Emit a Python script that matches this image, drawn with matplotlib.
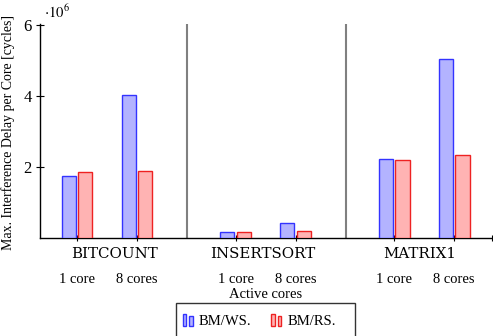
import matplotlib
matplotlib.use("Agg")
import matplotlib.pyplot as plt
from matplotlib.legend_handler import HandlerBase
from matplotlib.patches import Rectangle

plt.rcParams["font.family"] = ["Liberation Serif", "DejaVu Serif"]
plt.rcParams["mathtext.fontset"] = "stix"

benchmarks = ["BITCOUNT", "INSERTSORT", "MATRIX1"]
core_labels = ["1 core", "8 cores"]
# values in units of 1e6 cycles, order: [1 core, 8 cores]
bm_ws = [[1.76, 4.02], [0.17, 0.41], [2.23, 5.05]]
bm_rs = [[1.85, 1.89], [0.17, 0.20], [2.20, 2.35]]
series_names = ["BM/WS.", "BM/RS."]

BLUE_EDGE, BLUE_FILL = "#3333ff", "#b3b3ff"
RED_EDGE, RED_FILL = "#ee2222", "#ffb3b3"

GROUP_STEP = 2.642
BAR_W = 0.235
OFFSET = 0.14
# benchmark name position relative to the group's "1 core" tick
NAME_SHIFT = [0.63, 0.46, 0.43]

W, H = 493, 336
fig = plt.figure(figsize=(W / 100, H / 100), dpi=100)
ax = fig.add_axes([40 / W, 1 - 238 / H, (491.7 - 40) / W, (238 - 24.3) / H])

ticks = []
for g, name in enumerate(benchmarks):
    base = g * GROUP_STEP
    xs = [base, base + 1]
    ticks += xs
    ax.bar([x - OFFSET for x in xs], bm_ws[g], width=BAR_W,
           color=BLUE_FILL, edgecolor=BLUE_EDGE, linewidth=1.0, zorder=3)
    ax.bar([x + OFFSET for x in xs], bm_rs[g], width=BAR_W,
           color=RED_FILL, edgecolor=RED_EDGE, linewidth=1.0, zorder=3)
    ax.annotate(name, xy=(base + NAME_SHIFT[g], 1 - 254 / H),
                xycoords=("data", "figure fraction"),
                ha="center", va="center", fontsize=10.8, family="DejaVu Serif")

# gray separators between benchmarks
for g in range(len(benchmarks) - 1):
    ax.axvline(g * GROUP_STEP + 1.833, color="#808080", lw=1.5, zorder=1)

ax.set_xlim(-0.617, 6.91)
ax.set_ylim(0, 6.02)

ax.set_xticks(ticks + [6.91])
ax.set_xticklabels(core_labels * len(benchmarks) + [""], fontsize=10.5)
ax.tick_params(axis="x", direction="inout", length=5, pad=23)
ax.set_yticks([2, 4, 6])
ax.set_yticklabels(["2", "4", "6"], fontsize=12)
ax.tick_params(axis="y", direction="inout", length=6, pad=3)

for side in ["top", "right"]:
    ax.spines[side].set_visible(False)
for side in ["left", "bottom"]:
    ax.spines[side].set_linewidth(1.0)

ax.set_xlabel("Active cores", fontsize=10.5, labelpad=1)
fig.text(8 / W, 1 - 133 / H, "Max. Interference Delay per Core [cycles]",
         rotation=90, ha="center", va="center", fontsize=10)
fig.text(44 / W, 1 - 12 / H, r"$\cdot 10^{6}$", ha="left", va="center", fontsize=10.5)


class TwoBarHandler(HandlerBase):
    def create_artists(self, legend, orig_handle, xdescent, ydescent,
                       width, height, fontsize, trans):
        ec = orig_handle.get_edgecolor()
        fc = orig_handle.get_facecolor()
        w = width * 0.28
        a = Rectangle((xdescent + 0.5, ydescent - 1), w, height * 1.15,
                      facecolor=fc, edgecolor=ec, lw=1, transform=trans)
        b = Rectangle((xdescent + 0.5 + w + 2.0, ydescent - 1), w, height * 1.0,
                      facecolor=fc, edgecolor=ec, lw=1, transform=trans)
        return [a, b]


handles = [Rectangle((0, 0), 1, 1, facecolor=BLUE_FILL, edgecolor=BLUE_EDGE),
           Rectangle((0, 0), 1, 1, facecolor=RED_FILL, edgecolor=RED_EDGE)]
leg = fig.legend(handles, series_names, loc="center left",
                 bbox_to_anchor=(182 / W, 1 - 321 / H), ncol=2,
                 handler_map={Rectangle: TwoBarHandler()},
                 fontsize=10.5, frameon=False,
                 handlelength=0.9, handletextpad=0.25, columnspacing=1.3,
                 borderpad=0, borderaxespad=0)

# legend frame runs off the bottom of the figure, as in the original
fig.patches.append(Rectangle((176 / W, -0.05), (355 - 176) / W, 0.05 + 1 - 303 / H,
                             transform=fig.transFigure, fill=False,
                             edgecolor="#333333", lw=1.0))

fig.savefig("out.png", dpi=100)
